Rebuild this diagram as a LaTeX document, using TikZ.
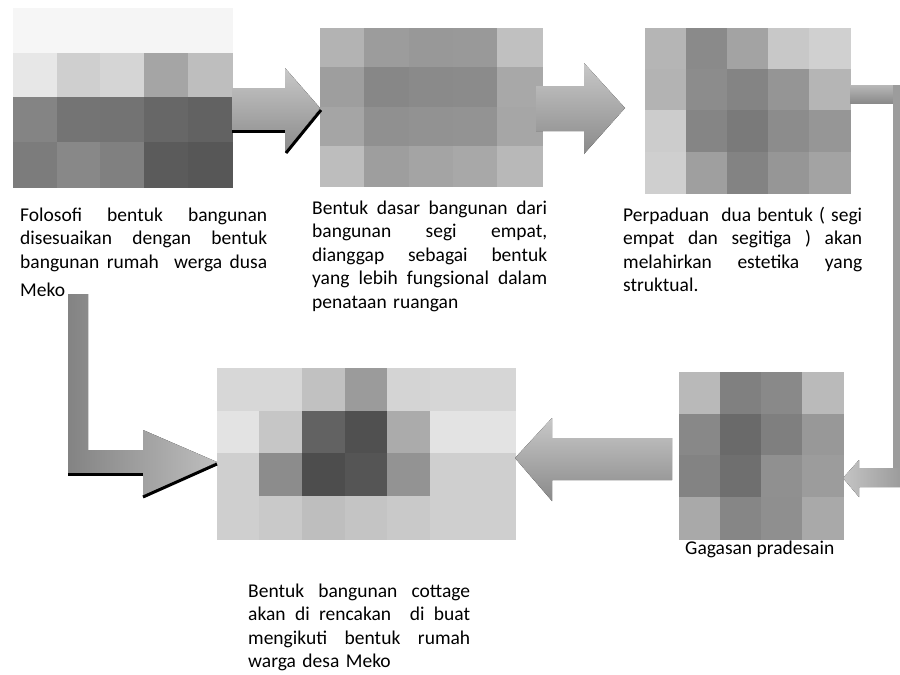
\documentclass[tikz,border=0pt]{standalone}
\usepackage{fontspec}
\setmainfont{Carlito}
% a grid of grey tiles: x0, y0, tile width, tile height, rows of grey levels (0-255)
\newcommand{\mosaic}[5]{%
  \foreach \rowvals [count=\r from 0] in {#5} {
    \foreach \g [count=\c from 0] in \rowvals {
      \definecolor{tilecol}{RGB}{\g,\g,\g}
      \filldraw[fill=tilecol, draw=tilecol, line width=0.4pt]
        ({#1+\c*#3},{#2+\r*#4}) rectangle ({#1+(\c+1)*#3},{#2+(\r+1)*#4});
    }
  }%
}
% a line whose word spaces stretch to the full width of the paragraph
\newcommand{\fullline}[1]{\hbox to \hsize{\spaceskip=\fontdimen2\font plus 1fil\relax #1}}
\definecolor{arrlight}{RGB}{200,200,200}
\definecolor{arrdark}{RGB}{138,138,138}
\definecolor{barmid}{RGB}{156,156,156}
\begin{document}
\begin{tikzpicture}[x=1pt,y=-1pt,
  blurb/.style={anchor=base west, inner sep=0pt, align=left,
    font=\fontsize{19.5}{23.5}\selectfont},
  vshade/.style={top color=arrlight, bottom color=arrdark},
  shadowline/.style={draw=black, line width=3pt}]
\useasboundingbox (0,0) rectangle (900,675);

% pictures
\mosaic{13}{8}{43.8}{44.75}{{246,246,245,245,245},{231,207,213,165,190},{132,116,115,103,98},{124,136,128,91,87}}
\mosaic{320}{28}{44.4}{39.5}{{179,156,152,153,192},{158,135,138,139,168},{165,144,146,147,166},{189,158,164,168,184}}
\mosaic{645}{28}{41}{41.25}{{181,138,163,200,208},{179,140,132,149,181},{204,133,122,140,150},{207,159,131,150,163}}
\mosaic{679}{372}{41}{41.75}{{185,128,137,186},{136,106,127,152},{131,111,144,156},{169,134,143,169}}
\mosaic{217}{368}{42.57}{42.75}{{215,215,193,155,212,214,214},{227,198,98,80,171,227,227},{207,140,77,85,147,207,207},{207,201,190,196,201,207,207}}

% block arrow 1 with its dark edge
\fill[vshade] (232,88) -- (285,88) -- (285,68) -- (320,108) -- (285,153) -- (285,130) -- (232,130) -- cycle;
\draw[shadowline] (232,131) -- (285,131);
\draw[shadowline] (286,153) -- (321,110);

% block arrow 2
\fill[vshade] (536,86) -- (584,86) -- (584,63) -- (625,108) -- (584,154) -- (584,131) -- (536,131) -- cycle;

% elbow arrow down the right side
\fill[top color=arrlight!92!black, bottom color=arrdark] (850,85) rectangle (894,103);
\fill[barmid] (893,85) rectangle (900,487);
\fill[left color=arrlight!98!black, right color=barmid] (843,478) -- (859,460) -- (859,468) -- (900,468) -- (900,487) -- (859,487) -- (859,497) -- cycle;

% block arrow pointing left
\fill[vshade] (672,438) -- (552,438) -- (552,418) -- (515,458) -- (552,501) -- (552,480) -- (672,480) -- cycle;

% elbow arrow on the left side
\fill[left color=arrdark!95!black, right color=arrlight!95!black] (68,294) -- (88,294) -- (88,450) -- (143,450) -- (143,430) -- (217,462) -- (143,497) -- (143,473) -- (68,473) -- cycle;
\draw[shadowline] (68,474.5) -- (143,474.5);
\draw[shadowline] (143,497) -- (217,464);

% captions
\node[blurb, text width=247] (t1) at (20,221) {%
  \fullline{Folosofi bentuk bangunan}
  \fullline{disesuaikan dengan bentuk}
  \fullline{bangunan rumah\ \ werga dusa}\vskip5pt
  Meko};
\node[blurb, text width=235] (t2) at (312,214) {%
  \fullline{Bentuk dasar bangunan dari}
  \fullline{bangunan segi empat,}
  \fullline{dianggap sebagai bentuk}
  \fullline{yang lebih fungsional dalam}
  penataan ruangan};
\node[blurb, text width=239] (t3) at (623,221) {%
  \fullline{Perpaduan\ \ dua bentuk ( segi}
  \fullline{empat dan segitiga ) akan}
  \fullline{melahirkan estetika yang}
  struktual.};
\node[blurb, text width=222] (t4) at (248,597) {%
  \fullline{Bentuk bangunan cottage}
  \fullline{akan di rencakan\ \ di buat}
  \fullline{mengikuti bentuk rumah}
  warga desa Meko};
\node[blurb] (t5) at (685,554) {Gagasan pradesain};
\end{tikzpicture}
\end{document}
